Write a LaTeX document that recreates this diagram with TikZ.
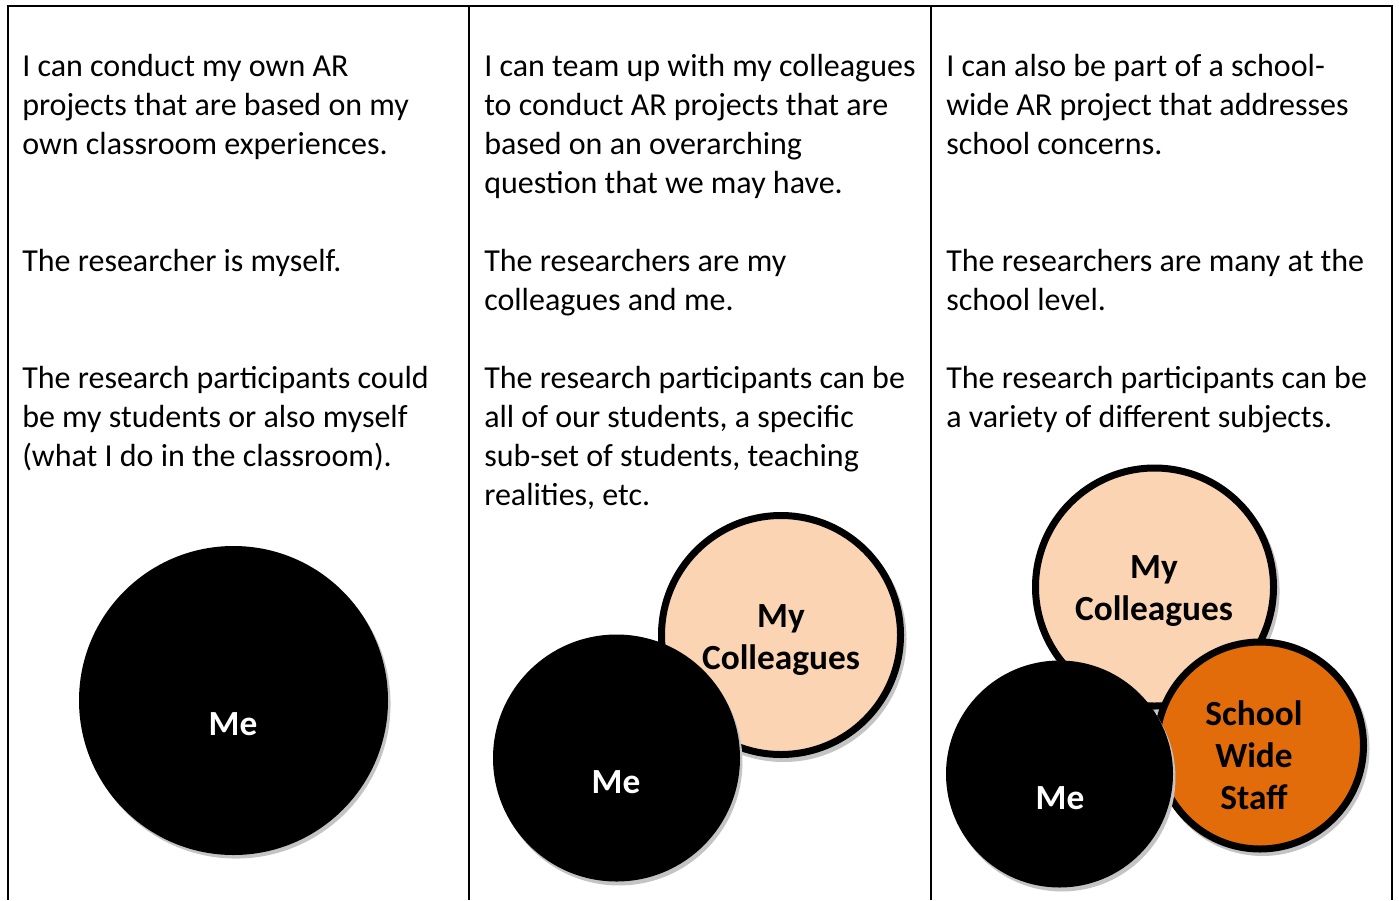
\documentclass[tikz,border=0pt]{standalone}
\usepackage{fontspec}
\setmainfont{Carlito}
\definecolor{peach}{HTML}{FBD4B4}
\definecolor{staffor}{HTML}{E36C0A}
\definecolor{shadowgray}{HTML}{C4C4C4}
\newcommand\lftlines[1]{\vtop{\halign{##\hfil\cr#1\crcr}}}
\newcommand\ctrlines[1]{\vtop{\halign{\hfil##\hfil\cr#1\crcr}}}
\tikzset{
  gridline/.style={line width=1.5pt},
  para/.style={anchor=base west, inner sep=0pt, font=\fontsize{24}{29.25}\selectfont},
  lbl/.style={anchor=base, inner sep=0pt, font=\fontsize{26.5}{31.5}\selectfont\bfseries},
  mecirc/.style={circle, fill=black, inner sep=0pt},
  ring/.style={circle, draw=black, line width=5.25pt, inner sep=0pt},
  shade/.style={fill=shadowgray},
}
\begin{document}
\begin{tikzpicture}[x=0.75pt,y=-0.75pt]
\useasboundingbox[fill=white] (0,0) rectangle (1399,900);
% table lines
\draw[gridline] (8,900) -- (8,6) -- (1392,6) -- (1392,900);
\draw[gridline] (469,6) -- (469,900);
\draw[gridline] (931,6) -- (931,900);

% column 1 text
\node[para] (c1p1) at (22,76) {\lftlines{I can conduct my own AR\cr projects that are based on my\cr own classroom experiences.}};
\node[para] (c1p2) at (22,271) {\lftlines{The researcher is myself.}};
\node[para] (c1p3) at (22,388) {\lftlines{The research participants could\cr be my students or also myself\cr (what I do in the classroom).}};

% column 2 text
\node[para] (c2p1) at (484,76) {\lftlines{I can team up with my colleagues\cr to conduct AR projects that are\cr based on an overarching\cr question that we may have.}};
\node[para] (c2p2) at (484,271) {\lftlines{The researchers are my\cr colleagues and me.}};
\node[para] (c2p3) at (484,388) {\lftlines{The research participants can be\cr all of our students, a specific\cr sub-set of students, teaching\cr realities, etc.}};

% column 3 text
\node[para] (c3p1) at (946,76) {\lftlines{I can also be part of a school-\cr wide AR project that addresses\cr school concerns.}};
\node[para] (c3p2) at (946,271) {\lftlines{The researchers are many at the\cr school level.}};
\node[para] (c3p3) at (946,388) {\lftlines{The research participants can be\cr a variety of different subjects.}};

% column 1 circle
\fill[shade] (236,704) circle[radius=115.9pt];
\node[mecirc, minimum size=231.75pt] (me1) at (233.5,700.5) {};
\node[lbl, text=white] (me1t) at (233,735) {Me};

% column 2 circles
\fill[shade] (783.5,639) circle[radius=92.25pt];
\node[ring, fill=peach, minimum size=179.25pt] (col2) at (781,635) {};
\fill[shade] (619,762) circle[radius=92.6pt];
\node[mecirc, minimum size=185.25pt] (me2) at (616.5,758) {};
\node[lbl] (col2t) at (781,627) {\ctrlines{My\cr Colleagues}};
\node[lbl, text=white] (me2t) at (616,793) {Me};

% column 3 circles
\fill[shade] (1157,591) circle[radius=91.9pt];
\node[ring, fill=peach, minimum size=178.5pt] (col3) at (1154.5,587) {};
\fill[shade] (1262.5,749) circle[radius=80.25pt];
\node[ring, fill=staffor, minimum size=155.25pt] (staff3) at (1260,745.5) {};
\fill[shade] (1062,778) circle[radius=85.1pt];
\node[mecirc, minimum size=170.25pt] (me3) at (1059.5,774) {};
\node[lbl] (col3t) at (1154,578) {\ctrlines{My\cr Colleagues}};
\node[lbl] (staff3t) at (1254,725) {\ctrlines{School\cr Wide\cr Staff}};
\node[lbl, text=white] (me3t) at (1060,809) {Me};
\end{tikzpicture}
\end{document}
